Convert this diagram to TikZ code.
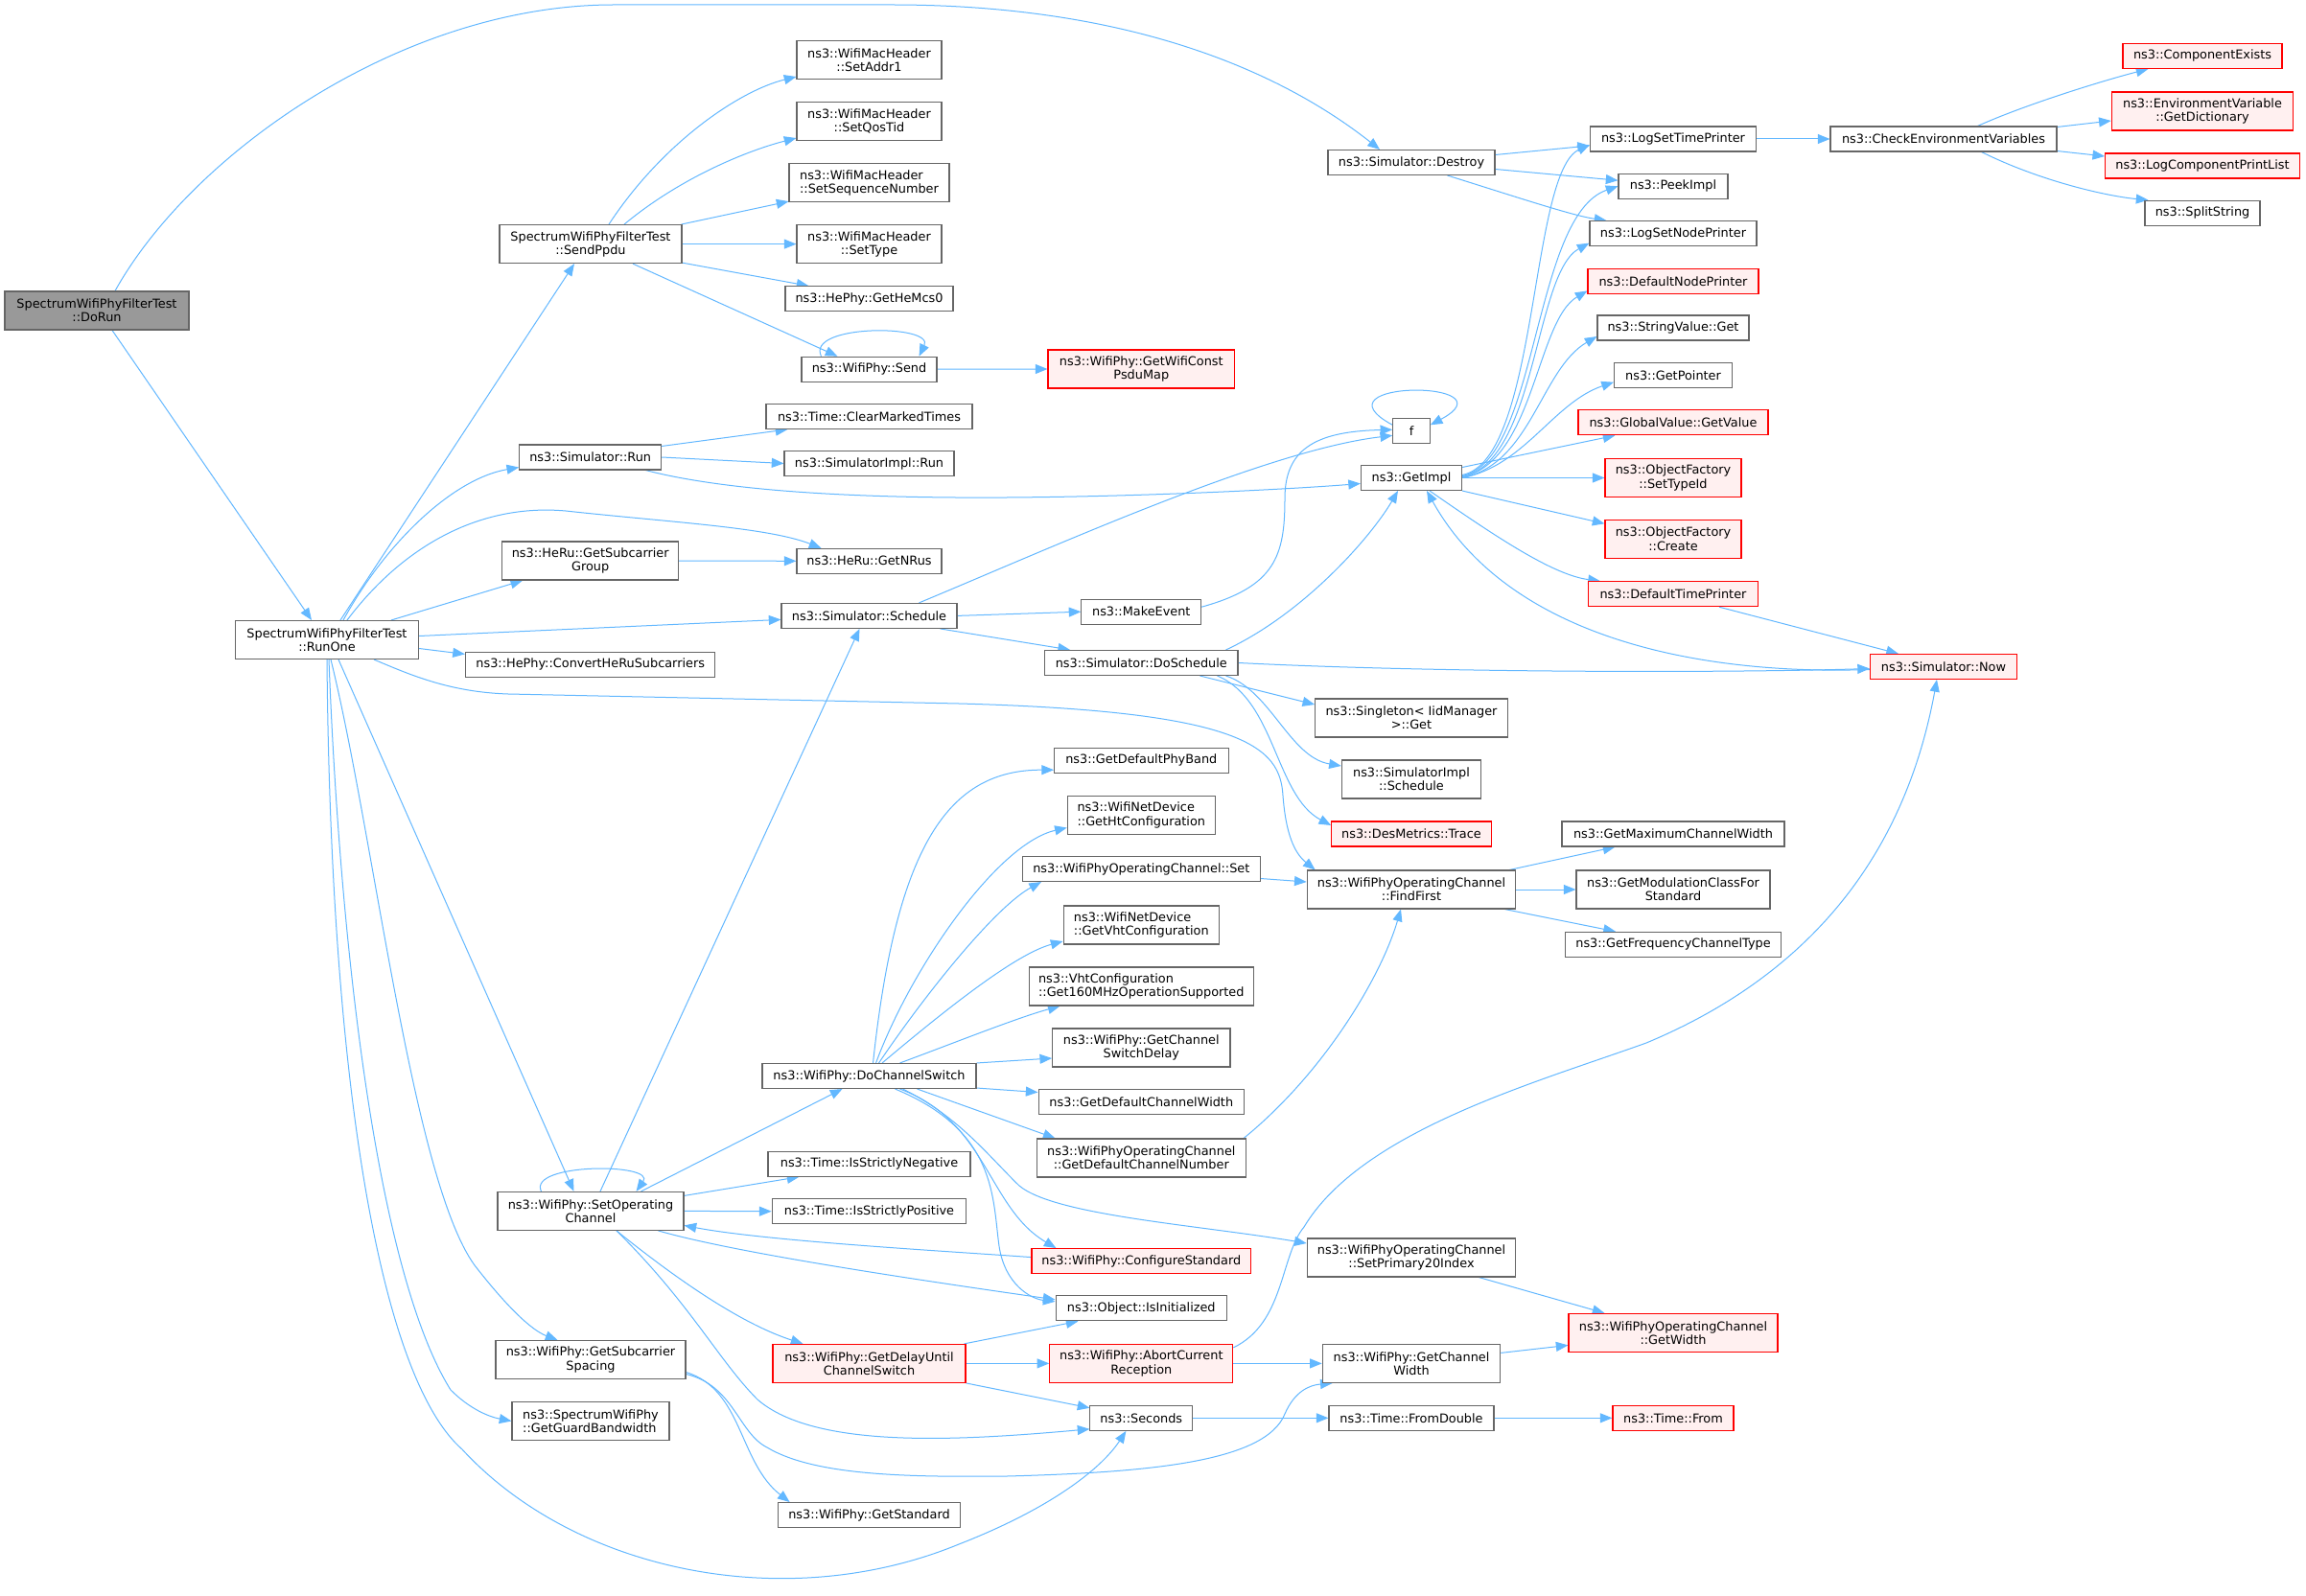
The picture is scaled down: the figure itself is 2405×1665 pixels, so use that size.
\documentclass[tikz,border=0pt]{standalone}
\usepackage{fontspec}
\newfontfamily\dvs{DejaVu Sans}
\usetikzlibrary{calc,arrows.meta,backgrounds}
\definecolor{edgec}{HTML}{63B8FF}
\definecolor{boxc}{HTML}{666666}
\definecolor{redfill}{HTML}{FFF0F0}
\definecolor{rootfill}{HTML}{999999}
\newcommand\nodefont{\dvs\fontsize{9.64pt}{10.7pt}\selectfont}
\begin{document}
\begin{tikzpicture}[x=0.75pt,y=-0.75pt,
  box/.style={draw=boxc,fill=white,line width=0.8pt,font=\nodefont,inner sep=1pt,align=center,minimum height=19.5pt},
  two/.style={minimum height=30pt},
  hot/.style={draw=red,fill=redfill},
  root/.style={fill=rootfill},
  bw/.style={minimum width=#1*0.75pt},
  edge/.style={draw=edgec,line width=0.75pt,-{Triangle[length=9.5pt,width=7.5pt]}}]
\useasboundingbox (0,0) rectangle (2405,1665);
% nodes
\node[box,two,root,bw=192] (dorun) at (101,324) {SpectrumWifiPhyFilterTest\\::DoRun};
\node[box,two,bw=191] (runone) at (341,667.5) {SpectrumWifiPhyFilterTest\\::RunOne};
\node[box,two,bw=190] (sendppdu) at (616,254.6) {SpectrumWifiPhyFilterTest\\::SendPpdu};
\node[box,two,bw=151] (setaddr) at (906.5,62.5) {ns3::WifiMacHeader\\::SetAddr1};
\node[box,two,bw=151] (setqos) at (906.5,126.5) {ns3::WifiMacHeader\\::SetQosTid};
\node[box,two,bw=167,align=left] (setseq) at (906.5,190.6) {ns3::WifiMacHeader\\::SetSequenceNumber};
\node[box,two,bw=151] (settype) at (906.5,254.6) {ns3::WifiMacHeader\\::SetType};
\node[box,bw=175] (hemcs) at (906.5,311.8) {ns3::HePhy::GetHeMcs0};
\node[box,bw=141] (send) at (906.5,385.2) {ns3::WifiPhy::Send};
\node[box,two,hot,bw=194.6] (psdumap) at (1190.3,385) {ns3::WifiPhy::GetWifiConst\\PsduMap};
\node[box,bw=215] (clearmt) at (906.5,434.4) {ns3::Time::ClearMarkedTimes};
\node[box,bw=177] (simimplrun) at (906.5,483.5) {ns3::SimulatorImpl::Run};
\node[box,bw=148] (simrun) at (615.7,477) {ns3::Simulator::Run};
\node[box,two,bw=184] (subgroup) at (615.7,585) {ns3::HeRu::GetSubcarrier\\Group};
\node[box,bw=151] (nrus) at (906.5,585.3) {ns3::HeRu::GetNRus};
\node[box,bw=183] (schedule) at (906.5,642.4) {ns3::Simulator::Schedule};
\node[box,bw=260.5] (convert) at (615.7,693.4) {ns3::HePhy::ConvertHeRuSubcarriers};
\node[box,bw=174] (destroy) at (1472,169.5) {ns3::Simulator::Destroy};
\node[box,bw=173] (logtime) at (1745,145) {ns3::LogSetTimePrinter};
\node[box,bw=236] (checkenv) at (2027,145) {ns3::CheckEnvironmentVariables};
\node[box,hot,bw=166] (compexists) at (2297,58.4) {ns3::ComponentExists};
\node[box,two,hot,bw=189.5] (getdict) at (2297,116) {ns3::EnvironmentVariable\\::GetDictionary};
\node[box,hot,bw=202.7] (logcomp) at (2297,173) {ns3::LogComponentPrintList};
\node[box,bw=120] (split) at (2297,222.2) {ns3::SplitString};
\node[box,bw=114] (peek) at (1745,194.2) {ns3::PeekImpl};
\node[box,bw=174] (lognode) at (1745,243.6) {ns3::LogSetNodePrinter};
\node[box,hot,bw=178] (defnode) at (1745,293.4) {ns3::DefaultNodePrinter};
\node[box,bw=158] (strget) at (1745,342) {ns3::StringValue::Get};
\node[box,bw=123] (getptr) at (1745,391.7) {ns3::GetPointer};
\node[box,hot,bw=198] (gvget) at (1745,440.8) {ns3::GlobalValue::GetValue};
\node[box,two,hot,bw=142] (settypeid) at (1745,498.5) {ns3::ObjectFactory\\::SetTypeId};
\node[box,two,hot,bw=142] (create) at (1745,562.3) {ns3::ObjectFactory\\::Create};
\node[box,hot,bw=177] (deftime) at (1745,619.7) {ns3::DefaultTimePrinter};
\node[box,hot,bw=153] (now) at (2027,695.5) {ns3::Simulator::Now};
\node[box,bw=38.5] (f) at (1472,449.3) {f};
\node[box,bw=105] (getimpl) at (1472,498.5) {ns3::GetImpl};
\node[box,bw=124.7] (makeevent) at (1190.3,638.2) {ns3::MakeEvent};
\node[box,bw=201.4] (dosched) at (1190.3,691.5) {ns3::Simulator::DoSchedule};
\node[box,two,bw=200.6] (singleton) at (1472,749) {ns3::Singleton< IidManager\\ >::Get};
\node[box,two,bw=145.3] (simimplsched) at (1472,813) {ns3::SimulatorImpl\\::Schedule};
\node[box,hot,bw=166.6] (trace) at (1472,870) {ns3::DesMetrics::Trace};
\node[box,bw=232] (maxcw) at (1745,870) {ns3::GetMaximumChannelWidth};
\node[box,two,bw=217.6] (findfirst) at (1472,928) {ns3::WifiPhyOperatingChannel\\::FindFirst};
\node[box,two,bw=202] (modclass) at (1745,928) {ns3::GetModulationClassFor\\Standard};
\node[box,bw=225] (freqtype) at (1745,985.3) {ns3::GetFrequencyChannelType};
\node[box,bw=181.5] (phyband) at (1190.3,793.2) {ns3::GetDefaultPhyBand};
\node[box,two,bw=154,align=left] (htconf) at (1190.3,850.5) {ns3::WifiNetDevice\\::GetHtConfiguration};
\node[box,bw=247.5] (opset) at (1190.3,906.5) {ns3::WifiPhyOperatingChannel::Set};
\node[box,two,bw=162.5,align=left] (vhtconf) at (1190.3,965) {ns3::WifiNetDevice\\::GetVhtConfiguration};
\node[box,two,bw=234.5,align=left] (get160) at (1190.3,1029) {ns3::VhtConfiguration\\::Get160MHzOperationSupported};
\node[box,two,bw=185.3] (switchdelay) at (1190.3,1093) {ns3::WifiPhy::GetChannel\\SwitchDelay};
\node[box,bw=214.5] (defcw) at (1190.3,1149.5) {ns3::GetDefaultChannelWidth};
\node[box,two,bw=218.4] (defcn) at (1190.3,1208) {ns3::WifiPhyOperatingChannel\\::GetDefaultChannelNumber};
\node[box,two,bw=217.6] (prim20) at (1472,1312) {ns3::WifiPhyOperatingChannel\\::SetPrimary20Index};
\node[box,hot,bw=228.6] (configstd) at (1190.3,1315.6) {ns3::WifiPhy::ConfigureStandard};
\node[box,bw=178.5] (isinit) at (1190.3,1364.8) {ns3::Object::IsInitialized};
\node[box,two,hot,bw=191] (abort) at (1190.3,1422.4) {ns3::WifiPhy::AbortCurrent\\Reception};
\node[box,two,bw=185.5] (getcw) at (1472,1422.4) {ns3::WifiPhy::GetChannel\\Width};
\node[box,two,hot,bw=218] (getwidth) at (1745,1390.4) {ns3::WifiPhyOperatingChannel\\::GetWidth};
\node[box,bw=106.7] (seconds) at (1190.3,1479.3) {ns3::Seconds};
\node[box,bw=172] (fromdouble) at (1472,1479.3) {ns3::Time::FromDouble};
\node[box,hot,bw=126] (timefrom) at (1745,1479.3) {ns3::Time::From};
\node[box,bw=223] (dochsw) at (906.5,1122.5) {ns3::WifiPhy::DoChannelSwitch};
\node[box,bw=211] (isneg) at (906.5,1214.2) {ns3::Time::IsStrictlyNegative};
\node[box,bw=202.7] (ispos) at (906.5,1263.7) {ns3::Time::IsStrictlyPositive};
\node[box,two,bw=194] (setopch) at (616,1263.4) {ns3::WifiPhy::SetOperating\\Channel};
\node[box,two,hot,bw=201] (delayuntil) at (906.5,1422.4) {ns3::WifiPhy::GetDelayUntil\\ChannelSwitch};
\node[box,two,bw=198] (subspacing) at (616,1418.5) {ns3::WifiPhy::GetSubcarrier\\Spacing};
\node[box,two,bw=164,align=left] (guardbw) at (616,1482.5) {ns3::SpectrumWifiPhy\\::GetGuardBandwidth};
\node[box,bw=190.7] (getstd) at (906.5,1580.6) {ns3::WifiPhy::GetStandard};
% edges
\begin{scope}[on background layer]
\fill[white] (0,0) rectangle (2405,1665);
% DoRun
\draw[edge] ($(dorun.north)+(19,0)$) .. controls (200,160) and (420,5) .. (640,5) -- (930,5) .. controls (1170,5) and (1330,70) .. ($(destroy.north)+(-33,0)$);
\draw[edge] ($(dorun.south)+(16,0)$) -- ($(runone.north)+(-16,0)$);
% RunOne
\draw[edge] ($(runone.north)+(14,0)$) -- ($(sendppdu.south)+(-17,0)$);
\draw[edge] ($(runone.north)+(17,0)$) .. controls (400,570) and (470,500) .. ($(simrun.south west)+(0,-3)$);
\draw[edge] ($(runone.north)+(21,0)$) .. controls (420,570) and (500,525) .. (590,533) .. controls (700,545) and (800,550) .. ($(nrus.north west)+(26,0)$);
\draw[edge] ($(runone.north)+(67,0)$) -- ($(subgroup.south west)+(22,0)$);
\draw[edge] ($(runone.east)+(0,-4)$) -- ($(schedule.west)+(0,4)$);
\draw[edge] ($(runone.east)+(0,9)$) -- ($(convert.west)+(0,-11)$);
\draw[edge] ($(runone.south)+(49,0)$) .. controls (430,705) and (470,722) .. (530,724) -- (1000,734) .. controls (1300,742) and (1335,780) .. (1338,830) .. controls (1341,870) and (1350,890) .. ($(findfirst.north west)+(9,0)$);
\draw[edge] ($(runone.south)+(12,0)$) -- ($(setopch.north west)+(80,0)$);
\draw[edge] ($(runone.south)+(4,0)$) .. controls (390,870) and (430,1230) .. (495,1320) .. controls (530,1365) and (555,1388) .. ($(subspacing.north west)+(65,0)$);
\draw[edge] ($(runone.south)+(2,0)$) .. controls (355,1000) and (395,1330) .. (470,1450) .. controls (490,1470) and (510,1478) .. (guardbw.west);
\draw[edge] (runone.south) .. controls (345,1150) and (400,1440) .. (482,1512) .. controls (600,1640) and (820,1685) .. (1000,1611) .. controls (1100,1572) and (1150,1530) .. ($(seconds.south west)+(38,0)$);
% SendPpdu
\draw[edge] ($(sendppdu.north)+(19,0)$) .. controls (690,150) and (770,95) .. ($(setaddr.south west)+(0,-3)$);
\draw[edge] ($(sendppdu.north)+(35,0)$) .. controls (710,185) and (780,157) .. ($(setqos.south west)+(0,-3)$);
\draw[edge] ($(sendppdu.north east)+(-1,0)$) -- ($(setseq.south west)+(0,-1)$);
\draw[edge] (sendppdu.east) -- (settype.west);
\draw[edge] ($(sendppdu.south east)+(0,-1)$) -- ($(hemcs.north west)+(25,0)$);
\draw[edge] ($(sendppdu.south)+(44,0)$) -- ($(send.north west)+(38,0)$);
\draw[edge] ($(send.north west)+(21,0)$) .. controls (840,338) and (975,338) .. ($(send.north east)+(-19,0)$);
\draw[edge] (send.east) -- (psdumap.west);
% Simulator::Run
\draw[edge] ($(simrun.north east)+(0,2)$) -- ($(clearmt.south west)+(23,0)$);
\draw[edge] (simrun.east) -- (simimplrun.west);
\draw[edge] ($(simrun.south east)+(-17,0)$) .. controls (760,513) and (900,520) .. (1050,519) .. controls (1200,518) and (1350,510) .. ($(getimpl.west)+(0,6)$);
\draw[edge] (subgroup.east) -- (nrus.west);
% Schedule
\draw[edge] ($(schedule.north east)+(-40,0)$) .. controls (1100,570) and (1320,470) .. ($(f.west)+(0,5)$);
\draw[edge] (schedule.east) -- (makeevent.west);
\draw[edge] ($(schedule.south east)+(-18,0)$) -- ($(dosched.north west)+(27,0)$);
\draw[edge] ($(makeevent.east)+(0,-5)$) .. controls (1330,612) and (1340,580) .. (1340,520) .. controls (1340,470) and (1370,450) .. ($(f.west)+(0,-1)$);
% DoSchedule
\draw[edge] ($(dosched.north east)+(-13,0)$) .. controls (1360,640) and (1430,560) .. ($(getimpl.south west)+(39,0)$);
\draw[edge] (dosched.east) .. controls (1500,702) and (1800,702) .. ($(now.west)+(0,2)$);
\draw[edge] ($(dosched.south east)+(-40,0)$) -- ($(singleton.west)+(0,-14)$);
\draw[edge] ($(dosched.south east)+(-13,0)$) .. controls (1325,720) and (1345,790) .. ($(simimplsched.west)+(0,-14)$);
\draw[edge] ($(dosched.south east)+(-22,0)$) .. controls (1330,730) and (1330,830) .. ($(trace.west)+(0,-9)$);
% Destroy
\draw[edge] ($(destroy.east)+(0,-8)$) -- ($(logtime.west)+(0,7)$);
\draw[edge] ($(destroy.east)+(0,7)$) -- ($(peek.west)+(0,-6)$);
\draw[edge] ($(destroy.south east)+(-50,0)$) .. controls (1580,205) and (1640,225) .. ($(lognode.north west)+(18,0)$);
\draw[edge] (logtime.east) -- (checkenv.west);
% CheckEnvironmentVariables
\draw[edge] ($(checkenv.north east)+(-83,0)$) .. controls (2110,110) and (2190,85) .. ($(compexists.south west)+(27,0)$);
\draw[edge] ($(checkenv.north east)+(0,1)$) -- ($(getdict.west)+(0,10)$);
\draw[edge] ($(checkenv.south east)+(0,-1)$) -- ($(logcomp.west)+(0,-10)$);
\draw[edge] ($(checkenv.south east)+(-79,0)$) .. controls (2130,190) and (2200,205) .. ($(split.north west)+(4,0)$);
% GetImpl
\draw[edge] ($(getimpl.east)+(0,-3)$) .. controls (1605,480) and (1595,180) .. ($(logtime.west)+(0,6)$);
\draw[edge] ($(getimpl.east)+(0,-2)$) .. controls (1605,480) and (1598,225) .. (peek.west);
\draw[edge] ($(getimpl.east)+(0,-1)$) .. controls (1603,481) and (1600,285) .. ($(lognode.west)+(0,10)$);
\draw[edge] ($(getimpl.east)+(0,-1)$) .. controls (1600,482) and (1602,335) .. ($(defnode.west)+(0,10)$);
\draw[edge] (getimpl.east) .. controls (1597,484) and (1607,385) .. ($(strget.west)+(0,9)$);
\draw[edge] (getimpl.east) .. controls (1590,486) and (1620,420) .. ($(getptr.west)+(0,7)$);
\draw[edge] ($(getimpl.east)+(0,-11)$) -- ($(gvget.south west)+(39,0)$);
\draw[edge] (getimpl.east) -- (settypeid.west);
\draw[edge] (getimpl.south east) -- ($(create.west)+(0,-16)$);
\draw[edge] ($(getimpl.south east)+(-34,0)$) .. controls (1560,560) and (1620,600) .. ($(deftime.north west)+(13,0)$);
\draw[edge] ($(f.west)+(0,-6)$) .. controls (1365,396) and (1580,396) .. ($(f.east)+(0,-6)$);
\draw[edge] ($(deftime.south east)+(-41,0)$) -- ($(now.north west)+(30,0)$);
\draw[edge] ($(now.west)+(0,3)$) .. controls (1760,705) and (1570,660) .. ($(getimpl.south east)+(-37,0)$);
% FindFirst
\draw[edge] ($(findfirst.north east)+(-7,0)$) -- ($(maxcw.south west)+(56,0)$);
\draw[edge] (findfirst.east) -- (modclass.west);
\draw[edge] ($(findfirst.south east)+(-12,0)$) -- ($(freqtype.north west)+(53,0)$);
\draw[edge] ($(opset.east)+(0,10)$) -- ($(findfirst.west)+(0,-8)$);
\draw[edge] ($(defcn.north east)+(-3,0)$) .. controls (1380,1120) and (1440,1020) .. ($(findfirst.south)+(-11,0)$);
\draw[edge] ($(prim20.south east)+(-39,0)$) -- ($(getwidth.north west)+(38,0)$);
% Abort, widths, seconds
\draw[edge] (abort.east) -- (getcw.west);
\draw[edge] ($(abort.north east)+(0,4)$) .. controls (1340,1380) and (1335,1310) .. (1360,1280) .. controls (1420,1180) and (1600,1130) .. (1717,1088) .. controls (1880,1020) and (1985,900) .. ($(now.south)+(-7,0)$);
\draw[edge] ($(getcw.east)+(0,-11)$) -- ($(getwidth.west)+(0,13)$);
\draw[edge] (seconds.east) -- (fromdouble.west);
\draw[edge] (fromdouble.east) -- (timefrom.west);
% GetSubcarrierSpacing
\draw[edge] ($(subspacing.east)+(0,15)$) .. controls (765,1445) and (770,1495) .. (800,1510) .. controls (850,1540) and (950,1541) .. (1050,1540) .. controls (1200,1536) and (1320,1525) .. (1340,1475) .. controls (1350,1452) and (1365,1445) .. ($(getcw.south west)+(11,0)$);
\draw[edge] ($(subspacing.east)+(0,13)$) .. controls (775,1450) and (770,1525) .. ($(getstd.north west)+(13,0)$);
% SetOperatingChannel
\draw[edge] ($(setopch.north west)+(46,0)$) .. controls (550,1213) and (685,1213) .. ($(setopch.north east)+(-50,0)$);
\draw[edge] ($(setopch.north)+(10,0)$) -- ($(schedule.south west)+(82,0)$);
\draw[edge] ($(setopch.north east)+(-45,0)$) -- ($(dochsw.south west)+(84,0)$);
\draw[edge] ($(setopch.east)+(0,-16)$) -- ($(isneg.south west)+(33,0)$);
\draw[edge] (setopch.east) -- (ispos.west);
\draw[edge] ($(configstd.west)+(0,-4)$) .. controls (1000,1306) and (800,1295) .. ($(setopch.east)+(0,15)$);
\draw[edge] ($(setopch.south east)+(-27,0)$) .. controls (760,1305) and (920,1330) .. ($(isinit.west)+(0,-9)$);
\draw[edge] ($(setopch.south)+(27,0)$) .. controls (700,1330) and (770,1380) .. ($(delayuntil.north west)+(32,0)$);
\draw[edge] ($(setopch.south)+(27,0)$) .. controls (720,1360) and (750,1420) .. (790,1460) .. controls (850,1512) and (1000,1503) .. ($(seconds.south west)+(0,-2)$);
% GetDelayUntilChannelSwitch
\draw[edge] ($(delayuntil.north east)+(-2,0)$) -- ($(isinit.south west)+(24,0)$);
\draw[edge] (delayuntil.east) -- (abort.west);
\draw[edge] (delayuntil.south east) -- ($(seconds.north west)+(0,3)$);
% DoChannelSwitch
\draw[edge] ($(dochsw.north)+(4,0)$) .. controls (935,880) and (990,803) .. ($(phyband.west)+(0,10)$);
\draw[edge] ($(dochsw.north)+(7,0)$) .. controls (950,1010) and (1040,880) .. ($(htconf.west)+(0,13)$);
\draw[edge] ($(dochsw.north)+(10,0)$) .. controls (970,1030) and (1040,945) .. ($(opset.south west)+(20,0)$);
\draw[edge] ($(dochsw.north)+(13.5,0)$) .. controls (990,1050) and (1060,995) .. ($(vhtconf.west)+(0,17)$);
\draw[edge] ($(dochsw.north)+(32,0)$) .. controls (990,1090) and (1060,1062) .. ($(get160.south west)+(33,0)$);
\draw[edge] (dochsw.north east) -- ($(switchdelay.west)+(0,11)$);
\draw[edge] ($(dochsw.south east)+(0,-1)$) -- ($(defcw.west)+(0,-10)$);
\draw[edge] ($(dochsw.south)+(50,0)$) -- ($(defcn.north west)+(20,0)$);
\draw[edge] ($(dochsw.south)+(35,0)$) .. controls (1000,1165) and (1030,1205) .. (1063,1237) .. controls (1100,1268) and (1250,1278) .. ($(prim20.west)+(0,-15)$);
\draw[edge] ($(dochsw.south)+(32,0)$) .. controls (1030,1170) and (1030,1260) .. ($(configstd.north west)+(26,0)$);
\draw[edge] ($(dochsw.south)+(27,0)$) .. controls (1040,1180) and (1035,1250) .. (1042,1300) .. controls (1048,1340) and (1075,1355) .. ($(isinit.west)+(0,-7)$);
\end{scope}
\end{tikzpicture}
\end{document}
